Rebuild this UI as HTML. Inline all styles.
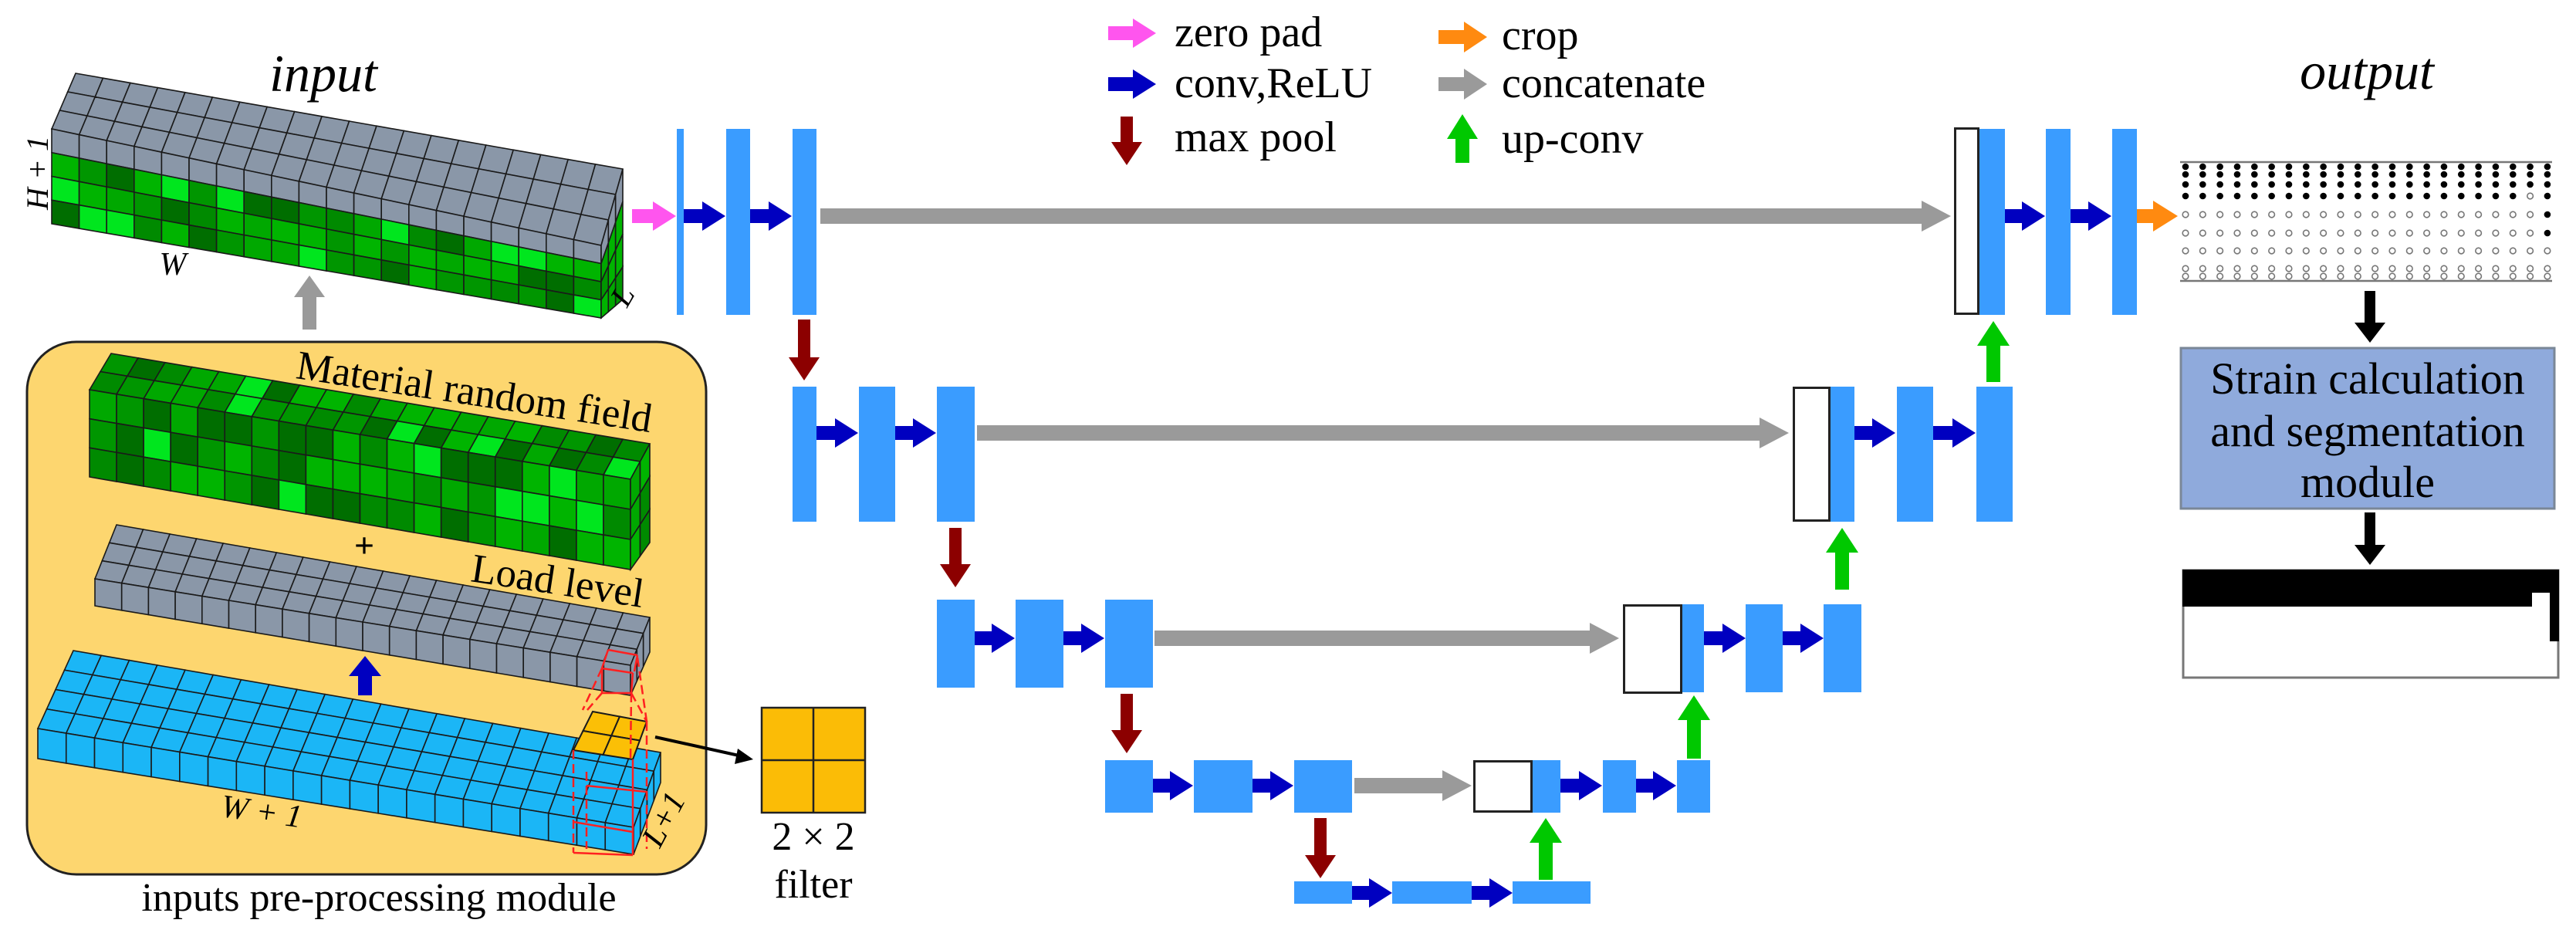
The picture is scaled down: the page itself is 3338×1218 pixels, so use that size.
<!DOCTYPE html>
<html><head><meta charset="utf-8">
<style>
html,body{margin:0;padding:0;background:#fff;}
svg{display:block;}
svg text{font-family:"Liberation Serif","Times New Roman","DejaVu Serif",serif;}
</style></head>
<body>
<svg id="s" width="3338" height="1218" viewBox="0 0 3338 1218" xmlns="http://www.w3.org/2000/svg">
<rect x="35" y="443" width="880" height="690" rx="64" ry="64" fill="#fdd66f" stroke="#222" stroke-width="3"/>
<g id="blocks"></g>
<g id="net"></g>

<g font-family="Liberation Serif, Times New Roman, DejaVu Serif, serif" fill="#000">
<text x="419" y="118" font-size="68" font-style="italic" text-anchor="middle">input</text>
<text transform="translate(62,224) rotate(-90)" font-size="40" font-style="italic" text-anchor="middle">H + 1</text>
<text x="224" y="356" font-size="42" font-style="italic" text-anchor="middle">W</text>
<text transform="translate(818,390) rotate(-60)" font-size="40" font-style="italic" text-anchor="middle">L</text>
<text transform="translate(612,525) rotate(8.7)" font-size="53" text-anchor="middle">Material random field</text>
<text x="472" y="722" font-size="46" font-weight="bold" text-anchor="middle">+</text>
<text transform="translate(720,770) rotate(8.7)" font-size="53" text-anchor="middle">Load level</text>
<text transform="translate(337,1065) rotate(8)" font-size="42" font-style="italic" text-anchor="middle">W + 1</text>
<text transform="translate(872,1068) rotate(-62)" font-size="42" font-style="italic" text-anchor="middle">L+1</text>
<text x="491" y="1180" font-size="52" text-anchor="middle">inputs pre-processing module</text>
<text x="1054" y="1101" font-size="52" text-anchor="middle">2 × 2</text>
<text x="1054" y="1163" font-size="52" text-anchor="middle">filter</text>

<text x="1522" y="60" font-size="56">zero pad</text>
<text x="1522" y="126" font-size="56">conv,ReLU</text>
<text x="1522" y="196" font-size="56">max pool</text>
<text x="1946" y="64" font-size="56">crop</text>
<text x="1946" y="126" font-size="56">concatenate</text>
<text x="1946" y="198" font-size="56">up-conv</text>

<text x="3067" y="115" font-size="68" font-style="italic" text-anchor="middle">output</text>
</g>
<rect x="2826" y="451" width="484" height="208" fill="#8faadc" stroke="#7a8797" stroke-width="3"/>
<g font-family="Liberation Serif, Times New Roman, DejaVu Serif, serif" fill="#000">
<text x="3068" y="510" font-size="58" text-anchor="middle">Strain calculation</text>
<text x="3068" y="578" font-size="58" text-anchor="middle">and segmentation</text>
<text x="3068" y="644" font-size="58" text-anchor="middle">module</text>
</g>
</svg>
<script>
(function(){
var NS="http://www.w3.org/2000/svg";
var B=document.getElementById("blocks"), N=document.getElementById("net");
function el(p,tag,a){var e=document.createElementNS(NS,tag);for(var k in a)e.setAttribute(k,a[k]);p.appendChild(e);return e;}
var seed=7;function rnd(){seed=(seed*9301+49297)%233280;return seed/233280;}
var greens=["#006e00","#009600","#00b400","#00e61e","#008a00","#00a800"];
function g(){return greens[Math.floor(rnd()*greens.length)];}
function lerp(a,b,t){return [a[0]+(b[0]-a[0])*t,a[1]+(b[1]-a[1])*t];}
function bil(q,u,v){return lerp(lerp(q[0],q[1],u),lerp(q[2],q[3],u),v);}
function grid(q,nu,nv,col,sw){
 for(var i=0;i<nu;i++)for(var j=0;j<nv;j++){
  var a=bil(q,i/nu,j/nv),b=bil(q,(i+1)/nu,j/nv),c=bil(q,(i+1)/nu,(j+1)/nv),d=bil(q,i/nu,(j+1)/nv);
  el(B,"polygon",{points:[a,b,c,d].map(function(p){return p.join(",")}).join(" "),fill:col(i,j),stroke:"#1a1a1a","stroke-width":sw||1.6});
 }
}
var gray="#8a97a8", blue="#1bb6f6";
grid([[98,95],[807,219],[67,167],[779,318]],20,3,function(){return gray;});
grid([[67,167],[779,318],[67,290],[779,412]],20,4,function(i,j){return j==0?gray:g();});
grid([[779,318],[807,219],[779,412],[807,388]],3,4,function(i,j){return j==0?gray:g();});
grid([[144,458],[842,575],[116,505],[817,621]],20,2,function(){return g();});
grid([[116,505],[817,621],[116,618],[817,738]],20,3,function(){return g();});
grid([[817,621],[842,575],[817,738],[842,703]],2,3,function(){return g();});
grid([[151,680],[842,800],[123,750],[817,862]],20,3,function(){return gray;});
grid([[123,750],[817,862],[123,785],[817,901]],20,1,function(){return gray;});
grid([[817,862],[842,800],[817,901],[842,845]],3,1,function(){return gray;});
grid([[95,843],[856,975],[49,944],[821,1072]],21,4,function(){return blue;});
grid([[49,944],[821,1072],[49,983],[821,1107]],21,1,function(){return blue;});
grid([[821,1072],[856,975],[821,1107],[856,1014]],4,1,function(){return blue;});
grid([[768,922],[838,935],[743,972],[820,984]],2,2,function(){return "#fbbf06";},2);
function rl(x1,y1,x2,y2,d){el(B,"line",{x1:x1,y1:y1,x2:x2,y2:y2,stroke:"#ff2020","stroke-width":2.5,"stroke-dasharray":d?"12,6":"none"});}
rl(788,842,826,849);rl(826,849,822,870);rl(780,866,820,872);rl(788,842,780,866);rl(780,866,780,898);rl(820,872,818,898);rl(780,898,818,898);
rl(780,898,761,920,1);rl(818,898,838,935,1);rl(826,852,838,935,1);rl(780,866,755,920,1);rl(818,898,817,984,1);
rl(743,972,743,1105,1);rl(760,1000,760,1100,1);rl(838,935,838,1100,1);rl(820,984,820,1108);
rl(743,1065,820,1078);rl(760,1018,838,1026);rl(743,1105,820,1108);
el(B,"rect",{x:987,y:917,width:134,height:136,fill:"#fbbc06",stroke:"#222","stroke-width":2.5});
el(B,"line",{x1:1054,y1:917,x2:1054,y2:1053,stroke:"#222","stroke-width":2.5});
el(B,"line",{x1:987,y1:985,x2:1121,y2:985,stroke:"#222","stroke-width":2.5});
el(B,"line",{x1:849,y1:955,x2:962,y2:980,stroke:"#000","stroke-width":4});
el(B,"polygon",{points:"976,984 956,970 952,990",fill:"#000"});

function harrow(x1,x2,y,col,sh,hw,hl){
 hl=hl||Math.min(hw*0.9,(x2-x1)*0.55);
 el(N,"polygon",{points:[[x1,y-sh/2],[x2-hl,y-sh/2],[x2-hl,y-hw/2],[x2,y],[x2-hl,y+hw/2],[x2-hl,y+sh/2],[x1,y+sh/2]].map(function(p){return p.join(",")}).join(" "),fill:col});
}
function varrow(x,y1,y2,col,sh,hw,hl){
 var d=y2>y1?1:-1;
 el(N,"polygon",{points:[[x-sh/2,y1],[x-sh/2,y2-d*hl],[x-hw/2,y2-d*hl],[x,y2],[x+hw/2,y2-d*hl],[x+sh/2,y2-d*hl],[x+sh/2,y1]].map(function(p){return p.join(",")}).join(" "),fill:col});
}
var CB="#3a9cff", NV="#0000c0", RD="#8c0000", GR="#00c800", GY="#9a9a9a";
function bar(x1,x2,y1,y2){el(N,"rect",{x:x1,y:y1,width:x2-x1,height:y2-y1,fill:CB});}
function wbox(x1,x2,y1,y2){el(N,"rect",{x:x1+1.5,y:y1+1.5,width:x2-x1-3,height:y2-y1-3,fill:"#fff",stroke:"#222","stroke-width":3});}
function conv(x1,x2,y){harrow(x1,x2,y,NV,18,38,30);}
varrow(401,427,357,GY,18,40,28);
varrow(473,901,850,NV,18,42,26);
bar(877,886,167,408);bar(941,972,167,408);bar(1027,1058,167,408);
harrow(819,876,280,"#ff55ee",18,38,30);conv(886,940,280);conv(972,1026,280);
harrow(1063,2528,280,GY,20,40,38);
wbox(2532,2565,165,408);bar(2565,2598,167,408);conv(2598,2650,280);bar(2651,2683,167,408);conv(2683,2736,280);bar(2737,2769,167,408);
harrow(2769,2822,280,"#ff8a10",18,40,32);
varrow(1042,414,493,RD,16,40,30);
bar(1027,1058,501,676);bar(1113,1160,501,676);bar(1214,1263,501,676);
conv(1058,1112,561);conv(1160,1213,561);
harrow(1266,2318,561,GY,20,40,38);
wbox(2323,2372,501,676);bar(2372,2403,501,676);conv(2403,2456,561);bar(2458,2505,501,676);conv(2505,2560,561);bar(2561,2608,501,676);
varrow(2583,495,416,GR,18,42,32);
varrow(1238,684,761,RD,16,40,30);
bar(1214,1263,777,891);bar(1316,1378,777,891);bar(1432,1494,777,891);
conv(1263,1315,827);conv(1378,1431,827);
harrow(1496,2098,827,GY,20,40,38);
wbox(2103,2180,783,899);bar(2180,2208,783,897);conv(2208,2262,827);bar(2262,2310,783,897);conv(2310,2363,827);bar(2363,2412,783,897);
varrow(2387,764,684,GR,18,42,32);
varrow(1460,899,976,RD,16,40,30);
bar(1432,1494,985,1053);bar(1547,1623,985,1053);bar(1677,1752,985,1053);
conv(1494,1546,1018);conv(1623,1676,1018);
harrow(1755,1907,1018,GY,20,40,38);
wbox(1909,1986,985,1053);bar(1986,2022,985,1053);conv(2022,2076,1018);bar(2077,2120,985,1053);conv(2120,2172,1018);bar(2173,2216,985,1053);
varrow(2195,983,901,GR,18,42,32);
varrow(1711,1060,1138,RD,16,40,30);
bar(1677,1752,1142,1171);bar(1804,1907,1142,1171);bar(1960,2061,1142,1171);
conv(1752,1804,1157);conv(1907,1960,1157);
varrow(2003,1140,1060,GR,18,42,32);
harrow(1436,1498,43,"#ff55ee",18,38,30);
harrow(1436,1498,109,NV,18,38,30);
varrow(1460,151,214,RD,16,40,30);
harrow(1864,1927,48,"#ff8a10",18,40,30);
harrow(1864,1927,109,GY,18,40,30);
varrow(1895,211,148,GR,18,40,32);
el(N,"line",{x1:2825,y1:210,x2:3307,y2:210,stroke:"#777","stroke-width":2.5});
el(N,"line",{x1:2825,y1:364,x2:3307,y2:364,stroke:"#777","stroke-width":2.5});
var rows=[216,226,239,254,278,302,325,348,358];
for(var c=0;c<22;c++){var x=2832+c*22.33;
 for(var r=0;r<rows.length;r++){
  var filled=r<4;
  if(c==20&&r==3)filled=false;
  if(c==21&&(r==4||r==5))filled=true;
  if(filled)el(N,"circle",{cx:x,cy:rows[r],r:4.3,fill:"#000"});
  else el(N,"circle",{cx:x,cy:rows[r],r:3.8,fill:"#fff",stroke:"#777","stroke-width":1.6});
 }}
varrow(3071,377,444,"#000",14,40,26);
varrow(3071,664,732,"#000",14,40,26);
el(N,"rect",{x:2829,y:739,width:486,height:139,fill:"#fff",stroke:"#777","stroke-width":3});
el(N,"polygon",{points:"2828,738 3316,738 3316,831 3304,831 3304,768 3281,768 3281,786 2828,786",fill:"#000"});
})();
</script>
</body></html>
